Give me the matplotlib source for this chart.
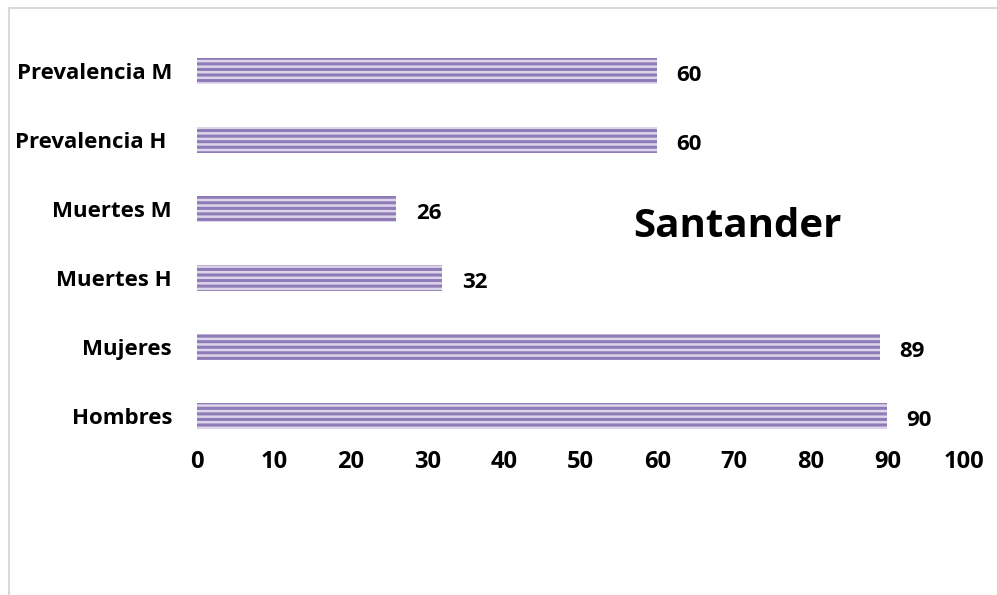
import matplotlib
matplotlib.use('Agg')
import matplotlib.pyplot as plt
from matplotlib.patches import Rectangle

# datos
categorias = ['Hombres', 'Mujeres', 'Muertes H', 'Muertes M', 'Prevalencia H ', 'Prevalencia M']
valores = [90, 89, 32, 26, 60, 60]
ticks_x = [0, 10, 20, 30, 40, 50, 60, 70, 80, 90, 100]

plt.rcParams['font.family'] = ['Open Sans', 'DejaVu Sans']
plt.rcParams['font.weight'] = 'bold'
plt.rcParams['hatch.linewidth'] = 2.2

fig = plt.figure(figsize=(9.97, 5.95), dpi=100)

# marco gris claro
fig.patches.append(Rectangle((9/997, -0.05), 1.2, 1 - 8/595 + 0.05, transform=fig.transFigure,
                             fill=False, edgecolor='#d9d9d9', linewidth=1.5))

ax = fig.add_axes([197/997, 1 - 450.5/595, (964 - 197)/997, (450.5 - 36.5)/595])
y = range(len(categorias))
ax.barh(y, valores, height=0.38, color='#ddd5ea', edgecolor='#8f7bb8', linewidth=0, hatch='---')

for i, v in zip(y, valores):
    ax.annotate(str(v), (v, i), xytext=(14, -3), textcoords='offset points',
                va='center', ha='left', fontsize=16, fontweight='bold')

ax.set_xlim(0, 100)
ax.set_ylim(-0.5, len(categorias) - 0.5)
ax.set_xticks(ticks_x)
ax.set_yticks(list(y))
ax.set_yticklabels(categorias)
ax.tick_params(axis='x', length=0, pad=0, labelsize=17)
ax.tick_params(axis='y', length=0, pad=18, labelsize=16)
for s in ax.spines.values():
    s.set_visible(False)

ax.text(0.705, 0.54, 'Santander', transform=ax.transAxes, ha='center', va='center',
        fontsize=29, fontweight='bold')

fig.savefig('out.png', dpi=100)
